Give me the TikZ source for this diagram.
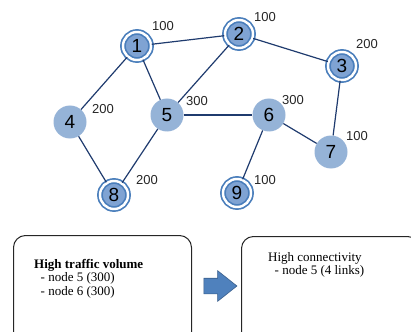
\documentclass[tikz,border=0pt]{standalone}
\usepackage{fontspec}
\setmainfont{Liberation Serif}
\newfontfamily\labelfont{Liberation Sans}
\usetikzlibrary{shapes.arrows}
\definecolor{nodeblue}{HTML}{95B3D7}
\definecolor{coreblue}{HTML}{7FA3D3}
\definecolor{ringblue}{HTML}{4A7EBB}
\definecolor{edgeblue}{HTML}{1F3B6E}
\definecolor{arrowblue}{HTML}{4F81BD}
\definecolor{arrowline}{HTML}{385D8A}
\begin{document}
\begin{tikzpicture}%
	[x=1pt,
	y=-1pt,
	link/.style={color=edgeblue, line width=1.2pt},
	router/.style={circle, inner sep=0pt, minimum size=33pt, fill=nodeblue, font=\labelfont\fontsize{19}{19}\selectfont},
	hub/.style={router, minimum size=28pt, fill=coreblue, draw=ringblue, line width=1.7pt, double=white, double distance=2.4pt},
	load/.style={inner sep=0pt, text=black!85, font=\labelfont\fontsize{13}{13}\selectfont},
	panel/.style={draw=black!85, line width=1pt, rounded corners=12pt, minimum width=178pt, minimum height=130pt, anchor=north west},
	panelText/.style={inner sep=0pt, anchor=north west, align=left, font=\fontsize{13}{13.5}\selectfont}]
%
\useasboundingbox (0,0) rectangle (411,331);
\clip (0,0) rectangle (411,331);
%
%% The routers:
%%
\node[hub] (n1) at (137,46) {1};
\node[hub] (n2) at (239,34) {2};
\node[hub] (n3) at (342,66) {3};
\node[router] (n4) at (70,122) {4};
\node[router] (n5) at (167,115) {5};
\node[router] (n6) at (269,115) {6};
\node[router] (n7) at (331,152) {7};
\node[hub] (n8) at (114,195) {8};
\node[hub] (n9) at (237,193) {9};
%%
%%
%% Drawing the links
%%
\draw[link] (n1) -- (n2);
\draw[link] (n2) -- (n3);
\draw[link] (n1) -- (n4);
\draw[link] (n1) -- (n5);
\draw[link] (n2) -- (n5);
\draw[link] (n3) -- (n7);
\draw[link] (n4) -- (n8);
\draw[link] (n5) -- (n8);
\draw[link] (n5) -- (n6);
\draw[link] (n6) -- (n7);
\draw[link] (n6) -- (n9);
%%
%%
%% Traffic volume of the routers
%%
\node[load] (v1) at (163,26) {100};
\node[load] (v2) at (265,17) {100};
\node[load] (v3) at (367,44) {200};
\node[load] (v4) at (103,109) {200};
\node[load] (v5) at (197,101) {300};
\node[load] (v6) at (293,100) {300};
\node[load] (v7) at (357,136) {100};
\node[load] (v8) at (147,180) {200};
\node[load] (v9) at (265,180) {100};
%%
%%
%% The two panels and the arrow
%%
\node[panel] (traffic) at (13,235) {};
\node[panel] (degree) at (241,236) {};
\node[panelText] (trafficText) at ([xshift=21pt, yshift=-24pt]traffic.north west) {\textbf{High traffic volume}\\ \ \ - node 5 (300)\\ \ \ - node 6 (300)};
\node[panelText] (degreeText) at ([xshift=27pt, yshift=-16pt]degree.north west) {High connectivity\\ \ \ - node 5 (4 links)};
\node[single arrow, draw=arrowline, fill=arrowblue, line width=0.6pt, inner sep=7.5pt, minimum height=33pt, single arrow head extend=7.5pt, single arrow tip angle=77] (go) at (215.5,286) {};
%%
%%
\end{tikzpicture}
\end{document}
